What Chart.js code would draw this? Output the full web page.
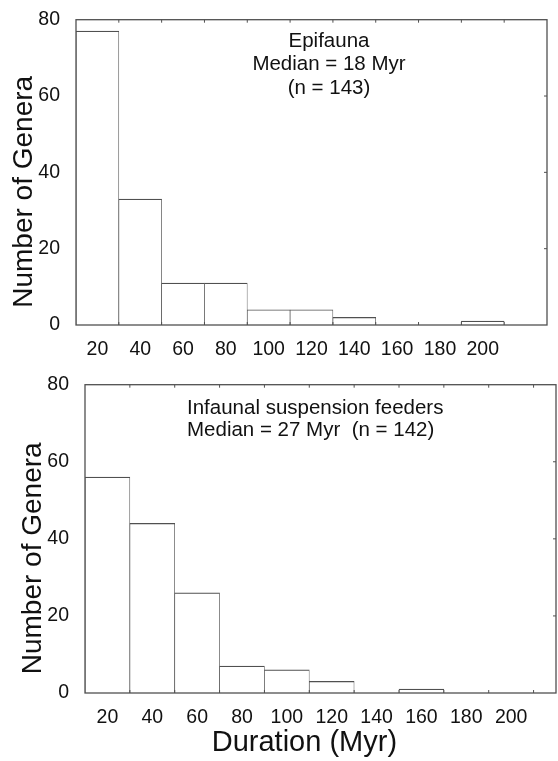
<!DOCTYPE html>
<html>
<head>
<meta charset="utf-8">
<script src="https://cdn.jsdelivr.net/npm/chart.js@4.4.1/dist/chart.umd.min.js"></script>
<style>
  html, body { margin: 0; padding: 0; background: #fff; }
  #wrap { position: relative; width: 558px; height: 761px; }
  canvas { position: absolute; left: 0; }
  #epiChart { top: 0; }
  #infChart { top: 365px; }
</style>
</head>
<body>
<div id="wrap">
  <canvas id="epiChart" width="558" height="365"></canvas>
  <canvas id="infChart" width="558" height="396"></canvas>
</div>
<script>
const binCentres = [20, 40, 60, 80, 100, 120, 140, 160, 180, 200]
const binEdges = [30, 50, 70, 90, 110, 130, 150, 170, 190, 210]
const epifaunaCounts = [77, 33, 11, 11, 4, 4, 2, 0, 0, 1]
const infaunaCounts = [56, 44, 26, 7, 6, 3, 0, 1, 0, 0]
const innerCountTicks = [20, 40, 60]
const epifaunaNote = ['Epifauna', 'Median = 18 Myr', '(n = 143)']
const infaunaNote = ['Infaunal suspension feeders', 'Median = 27 Myr  (n = 142)']

const FONT = "'Liberation Sans', Arial, sans-serif"
const LINE = '#505050'
const INK = '#111'
// trailing spaces nudge the centred axis titles off-centre like the original
const Y_TITLE = 'Number of Genera     '
const X_TITLE = 'Duration (Myr)    '

// box round the plot plus the small inward ticks
const framePlugin = {
  id: 'frame',
  afterDatasetsDraw(chart) {
    const { ctx, chartArea: a, scales: { x, y } } = chart
    ctx.save()
    ctx.strokeStyle = LINE
    ctx.lineWidth = 1.3
    ctx.strokeRect(a.left, a.top, a.width, a.height)
    ctx.lineWidth = 1
    ctx.beginPath()
    binEdges.forEach(v => {
      const px = x.getPixelForValue(v)
      ctx.moveTo(px, a.top)
      ctx.lineTo(px, a.top + 3)
      ctx.moveTo(px, a.bottom)
      ctx.lineTo(px, a.bottom - 3)
    })
    innerCountTicks.forEach(v => {
      const py = y.getPixelForValue(v)
      ctx.moveTo(a.right, py)
      ctx.lineTo(a.right - 3, py)
    })
    ctx.stroke()
    ctx.restore()
  }
}

const notePlugin = {
  id: 'note',
  afterDraw(chart, args, opts) {
    const { ctx } = chart
    ctx.save()
    ctx.font = `20.5px ${FONT}`
    ctx.fillStyle = INK
    ctx.textAlign = opts.align
    ctx.textBaseline = 'middle'
    opts.lines.forEach((t, i) => ctx.fillText(t, opts.x, opts.y + i * opts.gap))
    ctx.restore()
  }
}

function makeHistogram(id, counts, cfg) {
  const ctx = document.getElementById(id).getContext('2d')
  return new Chart(ctx, {
    type: 'bar',
    data: {
      datasets: [{
        data: binCentres.map((c, i) => ({ x: c, y: counts[i] })),
        backgroundColor: '#fff',
        borderColor: LINE,
        borderWidth: { top: 1.2, left: 0.7, right: 0.7, bottom: 0 },
        barPercentage: 1,
        categoryPercentage: 1
      }]
    },
    options: {
      responsive: false,
      animation: false,
      layout: { padding: cfg.padding },
      scales: {
        x: {
          type: 'linear',
          offset: false,
          min: 10,
          max: cfg.xMax,
          afterBuildTicks: s => { s.ticks = binCentres.map(v => ({ value: v })) },
          afterFit: s => { s.height = cfg.xHeight },
          grid: { display: false },
          border: { display: false },
          ticks: { color: INK, padding: 5, font: { family: FONT, size: 19.5 } },
          title: {
            display: !!cfg.xTitle,
            text: cfg.xTitle,
            color: INK,
            padding: { top: 0, bottom: 1 },
            font: { family: FONT, size: 29 }
          }
        },
        y: {
          min: 0,
          max: 80,
          ticks: { stepSize: 20, color: INK, padding: 8, font: { family: FONT, size: 19.5 } },
          afterFit: s => { s.width = cfg.yWidth },
          grid: { display: false },
          border: { display: false },
          title: {
            display: true,
            text: Y_TITLE,
            color: INK,
            padding: { top: cfg.yTitlePad, bottom: 0 },
            font: { family: FONT, size: 28 }
          }
        }
      },
      plugins: {
        legend: { display: false },
        tooltip: { enabled: false },
        note: cfg.note
      }
    },
    plugins: [framePlugin, notePlugin]
  })
}

makeHistogram('epiChart', epifaunaCounts, {
  padding: { top: 14, right: 11, left: 0, bottom: 0 },
  xMax: 230,
  xHeight: 40,
  yWidth: 76,
  yTitlePad: 7,
  note: { lines: epifaunaNote, x: 329, y: 41, gap: 23.5, align: 'center' }
})

makeHistogram('infChart', infaunaCounts, {
  padding: { top: 17, right: 2, left: 0, bottom: 0 },
  xMax: 220,
  xHeight: 68,
  yWidth: 85,
  yTitlePad: 16,
  xTitle: X_TITLE,
  note: { lines: infaunaNote, x: 187, y: 43, gap: 22, align: 'left' }
})
</script>
</body>
</html>
